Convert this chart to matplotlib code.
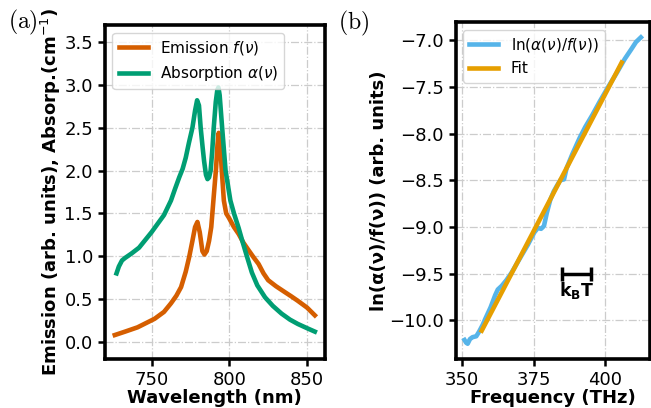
import numpy as np
import matplotlib
matplotlib.use('Agg')
import matplotlib.pyplot as plt

# Panel (a): emission and absorption spectra vs wavelength (nm)
wl_em = [726.4, 733, 741, 752, 758, 762.5, 766, 769, 772, 774.2, 776.3, 778,
         779.5, 781, 782.7, 784, 785.5, 787, 788.4, 790, 791.5, 792.4, 793.2,
         794.1, 795, 796.5, 798, 799.7, 803, 806, 809, 812.4, 815.5, 818.8,
         822, 825, 830, 835.8, 840, 844, 850, 855]
em = [0.08, 0.12, 0.17, 0.27, 0.35, 0.45, 0.54, 0.64, 0.82, 0.99, 1.18, 1.34,
      1.40, 1.28, 1.06, 1.02, 1.06, 1.18, 1.34, 1.70, 2.03, 2.30, 2.44,
      2.32, 2.05, 1.65, 1.50, 1.45, 1.34, 1.26, 1.16, 1.07, 0.99, 0.91,
      0.80, 0.72, 0.65, 0.58, 0.53, 0.48, 0.40, 0.31]

wl_ab = [727.5, 729, 731, 733, 737, 742, 750, 758, 762.5, 765, 767.8, 770,
         772, 774, 776.3, 778, 779.3, 780.5, 781.6, 782.8, 783.8, 785, 786,
         787, 788, 789, 790, 791.3, 792.3, 793, 793.8, 795.4, 796.5, 797.6,
         800.7, 803, 806, 808.5, 811.3, 814.5, 818, 823, 828, 833.6, 839,
         844, 850, 855]
ab = [0.80, 0.88, 0.95, 0.98, 1.03, 1.10, 1.28, 1.48, 1.65, 1.78, 1.92, 2.02,
      2.15, 2.32, 2.50, 2.70, 2.82, 2.76, 2.50, 2.28, 2.11, 1.95, 1.90,
      1.92, 2.00, 2.22, 2.50, 2.80, 2.94, 2.97, 2.88, 2.50, 2.25, 2.00,
      1.65, 1.50, 1.33, 1.17, 1.00, 0.81, 0.66, 0.52, 0.42, 0.33, 0.26,
      0.21, 0.16, 0.12]

# Panel (b): ln(alpha/f) vs frequency (THz)
fr = [350.9, 351.5, 352.0, 352.8, 353.7, 355.0, 356.0, 357.2, 358.2, 360.0,
      361.6, 362.5, 363.9, 365.5, 367.3, 369.0, 370.7, 373.0, 375.2, 376.5,
      377.6, 378.6, 379.6, 380.8, 382.0, 383.1, 384.3, 385.6, 386.5, 388.5,
      391.0, 393.0, 395.5, 398.0, 401.2, 404.0, 406.8, 409.0, 410.7, 412.4]
lnr = [-10.21, -10.24, -10.25, -10.20, -10.18, -10.17, -10.12, -10.05, -9.98, -9.86,
       -9.73, -9.67, -9.63, -9.57, -9.49, -9.40, -9.31, -9.19, -9.06, -9.01,
       -9.02, -8.99, -8.85, -8.71, -8.62, -8.56, -8.50, -8.49, -8.37, -8.22,
       -8.05, -7.93, -7.80, -7.66, -7.49, -7.35, -7.20, -7.10, -7.02, -6.97]
fit_x = [356.9, 405.7]
fit_y = [-10.11, -7.24]

kbt_center = 390.0
kbt_half = 5.0
kbt_y = -9.5

c_em = '#d55e00'
c_ab = '#009e73'
c_ln = '#56b4e9'
c_fit = '#e69f00'

fig = plt.figure(figsize=(6.51, 4.08), dpi=100)
ax1 = fig.add_axes([0.161, 0.120, 0.338, 0.819])
ax2 = fig.add_axes([0.700, 0.120, 0.298, 0.826])

for ax in (ax1, ax2):
    ax.grid(True, color='#cccccc', linestyle='-.', linewidth=0.9)
    ax.set_axisbelow(True)
    for s in ax.spines.values():
        s.set_linewidth(2.6)
    ax.tick_params(labelsize=13, width=1.8, length=5)

ax1.plot(wl_em, em, color=c_em, lw=3.3, label=r'Emission $f(\nu)$')
ax1.plot(wl_ab, ab, color=c_ab, lw=3.3, label=r'Absorption $\alpha(\nu)$')
ax1.set_ylim(-0.2, 3.7)
ax1.set_xticks([750, 800, 850])
ax1.set_yticks([0.0, 0.5, 1.0, 1.5, 2.0, 2.5, 3.0, 3.5])
ax1.set_xlabel('Wavelength (nm)', fontsize=13, fontweight='bold', labelpad=0)
ax1.set_ylabel(r'Emission (arb. units), Absorp.(cm$^{-1}$)', fontsize=13,
               fontweight='bold', labelpad=1)
ax1.legend(loc='upper left', fontsize=11, handlelength=1.9, borderaxespad=0.5)

ax2.plot(fr, lnr, color=c_ln, lw=3.3, label=r'ln($\alpha(\nu)/f(\nu)$)')
ax2.plot(fit_x, fit_y, color=c_fit, lw=3.3, label='Fit')
ax2.set_xticks([350, 375, 400])
ax2.set_yticks([-10.0, -9.5, -9.0, -8.5, -8.0, -7.5, -7.0])
ax2.set_xlabel('Frequency (THz)', fontsize=13, fontweight='bold', labelpad=0)
ax2.set_ylabel('ln(α(ν)/f(ν)) (arb. units)', fontsize=13, fontweight='bold',
               labelpad=1)
ax2.legend(loc='upper left', fontsize=11, handlelength=1.9, borderaxespad=0.5)

# k_B T scale bar
ax2.errorbar(kbt_center, kbt_y, xerr=kbt_half, color='k', lw=2.5,
             capsize=5, capthick=2.5)
ax2.text(kbt_center, kbt_y - 0.07, r'$\mathbf{k_BT}$', ha='center', va='top',
         fontsize=12.5)

fig.text(23 / 651, 1 - 22 / 408, r'$\mathrm{(a)}$', math_fontfamily='cm',
         fontsize=17, ha='center', va='center')
fig.text(354 / 651, 1 - 23 / 408, r'$\mathrm{(b)}$', math_fontfamily='cm',
         fontsize=17, ha='center', va='center')

fig.savefig('out.png', dpi=100)
